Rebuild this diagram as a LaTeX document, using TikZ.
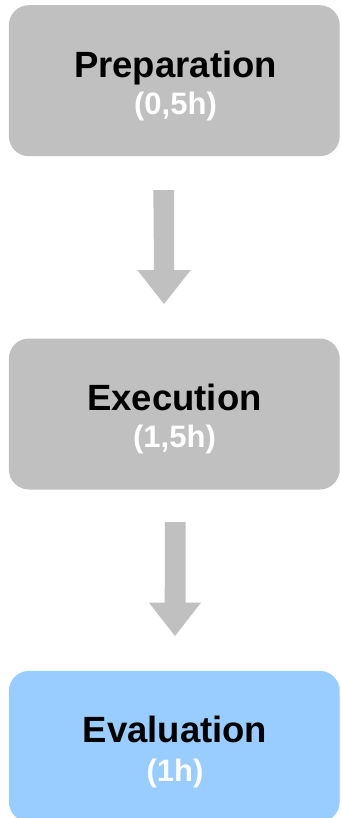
\documentclass[tikz,border=0pt]{standalone}
\usepackage{fontspec}
\setmainfont{Liberation Sans}
\usetikzlibrary{calc}
\definecolor{boxgray}{HTML}{C0C0C0}
\definecolor{boxblue}{HTML}{99CCFF}
\definecolor{arrgray}{HTML}{C0C0C0}
\tikzset{
  stagebox/.style={draw=none, rounded corners=20bp, minimum width=330.8bp, minimum height=151bp, inner sep=0pt, anchor=north west},
  title/.style={anchor=base, inner sep=0pt, font=\fontsize{36.5bp}{40bp}\selectfont\bfseries, text=black},
  dur/.style={anchor=base, inner sep=0pt, font=\fontsize{31bp}{34bp}\selectfont\bfseries, text=white},
  fatarrow/.style={fill=arrgray, draw=none}
}
\begin{document}
\begin{tikzpicture}[x=1bp, y=-1bp]
\useasboundingbox (0,0) rectangle (340,818);
% boxes
\node[stagebox, fill=boxgray] (prep) at (8.7,5) {};
\node[stagebox, fill=boxgray] (exec) at (8.7,338.3) {};
\node[stagebox, fill=boxblue] (eval) at (8.7,670.7) {};
% texts
\node[title] (prept) at (175.5,77.5) {Preparation};
\node[dur]   (prepd) at (175.5,114.8) {(0,5h)};
\node[title] (exect) at (174.5,410) {Execution};
\node[dur]   (execd) at (174.5,447.8) {(1,5h)};
\node[title] (evalt) at (175,742) {Evaluation};
\node[dur]   (evald) at (175,781.5) {(1h)};
% arrows
\coordinate (a1s) at (163.7,190);
\coordinate (a1t) at (164,304);
\fill[fatarrow] (a1s) ++(-10.35,0) -- ++(20.7,0) -- ++(0,80) -- ++(16.7,0) -- (a1t) -- ++(-26.7,-34) -- ++(16.7,0) -- cycle;
\coordinate (a2s) at (175.3,522);
\coordinate (a2t) at (175,636);
\fill[fatarrow] (a2s) ++(-10.35,0) -- ++(20.7,0) -- ++(0,80.7) -- ++(15.3,0) -- (a2t) -- ++(-26,-33.3) -- ++(15.7,0) -- cycle;
\end{tikzpicture}
\end{document}
